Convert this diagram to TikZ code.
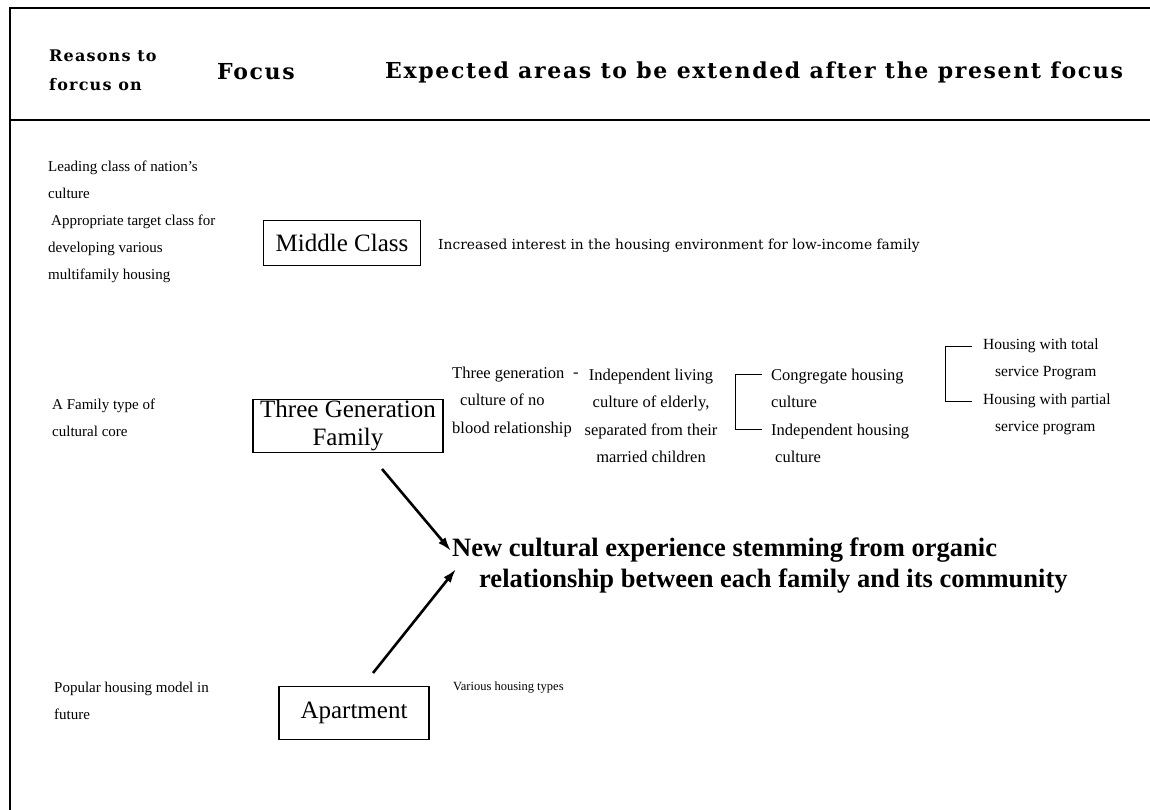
\documentclass[tikz,border=0pt]{standalone}
\usepackage{fontspec}
\setmainfont{Liberation Serif}
\newfontfamily\headfont[LetterSpace=7.5]{DejaVu Serif}
\newfontfamily\widefont{DejaVu Serif}
\usetikzlibrary{arrows.meta, positioning}

\tikzset{
  frame/.style={line width=1.2pt},
  head/.style={font=\headfont\bfseries\fontsize{22}{26}\selectfont, inner sep=0pt, anchor=west},
  reason/.style={font=\fontsize{15}{27}\selectfont, align=left, inner sep=0pt, anchor=west},
  focusbox/.style={draw, line width=1.1pt, font=\fontsize{25}{28}\selectfont, align=center, inner sep=0pt},
  ext/.style={font=\fontsize{16.5}{27.5}\selectfont, inner sep=0pt, anchor=west},
  bracket/.style={line width=1pt},
  flow/.style={line width=2.6pt, -{Latex[length=14pt, width=9pt]}}
}

\begin{document}
\begin{tikzpicture}[x=1pt, y=-1pt]
    \useasboundingbox (0,0) rectangle (1150,810);

    % Frame and header rule
    \draw[frame] (1150,8) -- (10,8) -- (10,810);
    \draw[frame] (10,120) -- (1150,120);

    % Header
    \node[head, align=left, font=\headfont\bfseries\fontsize{16}{29}\selectfont] (reasonhd) at (49,70) {Reasons to\\forcus on};
    \node[head] (focushd) at (217,72) {Focus};
    \node[head] (expecthd) at (385,72) {Expected areas to be extended after the present focus};

    % Reasons
    \node[reason] (why1) at (48,222) {Leading class of nation's\\culture\\\hspace*{3pt}Appropriate target class for\\developing various\\multifamily housing};
    \node[reason] (why2) at (52,418) {A Family type of\\cultural core};
    \node[reason] (why3) at (54,701) {Popular housing model in\\future};

    % Focus boxes
    \node[focusbox, minimum width=157pt, minimum height=45pt] (middle) at (342,243) {Middle Class};
    \node[focusbox, minimum width=190pt, minimum height=53pt] (threegen) at (348,426) {Three Generation\\Family};
    \node[focusbox, minimum width=150pt, minimum height=53pt] (apart) at (354,713) {Apartment};

    % Expected areas
    \node[ext, font=\widefont\fontsize{13.8}{16}\selectfont] (lowinc) at (438,246) {Increased interest in the housing environment for low-income family};
    \node[ext, align=left] (nonblood) at (452,402) {Three generation\\\hspace*{8pt}culture of no\\blood relationship};
    \node[ext] (hyph) at (573,375) {-};
    \node[ext, align=center, anchor=center] (elderly) at (651,416) {Independent living\\culture of elderly,\\separated from their\\married children};
    \node[ext, align=left] (congr) at (771,416) {Congregate housing\\culture\\Independent housing\\\hspace*{4pt}culture};
    \node[ext, align=left, font=\fontsize{15.5}{27.5}\selectfont] (service) at (983,387) {Housing with total\\\hspace*{12pt}service Program\\Housing with partial\\\hspace*{12pt}service program};
    \node[ext, font=\fontsize{12.5}{14}\selectfont] (vartypes) at (453,688) {Various housing types};

    % Brackets
    \coordinate (br1a) at (762,374);
    \coordinate (br1b) at (762,429);
    \draw[bracket] (br1a) -- ++(-27,0) |- (br1b);
    \coordinate (br2a) at (972,346);
    \coordinate (br2b) at (972,401);
    \draw[bracket] (br2a) -- ++(-27,0) |- (br2b);

    % New experience
    \node[anchor=west, align=left, inner sep=0pt, font=\bfseries\fontsize{26.5}{31}\selectfont] (newexp) at (452,566) {New cultural experience stemming from organic\\\hspace*{27pt}relationship between each family and its community};

    % Arrows
    \coordinate (arr1s) at (382,469);
    \coordinate (arr1e) at (451,551);
    \coordinate (arr2s) at (373,673);
    \coordinate (arr2e) at (456,569);
    \draw[flow] (arr1s) -- (arr1e);
    \draw[flow] (arr2s) -- (arr2e);
\end{tikzpicture}
\end{document}
